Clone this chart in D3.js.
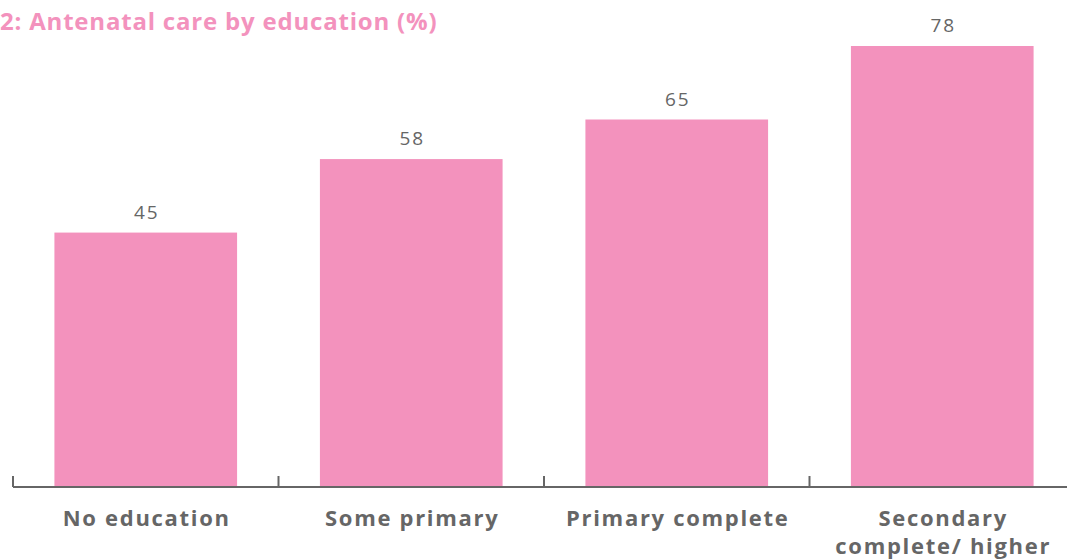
<!DOCTYPE html>
<html><head><meta charset="utf-8">
<script src="https://cdn.jsdelivr.net/npm/d3@7"></script>
<style>body{margin:0;background:#fff}svg{display:block}</style>
</head><body>
<svg id="c" width="1067" height="560"></svg>
<script>
const categories = ["No education", "Some primary", "Primary complete", "Secondary complete/ higher"];
const categoryLines = [["No education"], ["Some primary"], ["Primary complete"], ["Secondary", "complete/ higher"]];
const values = [45, 58, 65, 78];
const title = "2: Antenatal care by education (%)";

const svg = d3.select("#c");
const font = "'Open Sans', 'DejaVu Sans', sans-serif";
const grey = "#666666";
const pink = "#F392BD";

const x = d3.scaleBand().domain(categories).range([13, 1075]).paddingInner(0.312).paddingOuter(0.156);
const y = d3.scaleLinear().domain([0, 78]).range([487, 46]);

svg.append("text").attr("x", 0).attr("y", 30)
  .attr("font-family", font).attr("font-weight", 700).attr("font-size", 24)
  .attr("letter-spacing", 0.8)
  .attr("fill", pink).text(title);

svg.selectAll("rect.bar").data(values).join("rect").attr("class", "bar")
  .attr("x", (d, i) => x(categories[i])).attr("width", x.bandwidth())
  .attr("y", d => y(d)).attr("height", d => y(0) - y(d)).attr("fill", pink);

svg.selectAll("text.val").data(values).join("text").attr("class", "val")
  .attr("x", (d, i) => x(categories[i]) + x.bandwidth() / 2 + 1).attr("y", d => y(d) - 14)
  .attr("text-anchor", "middle").attr("font-family", font).attr("font-size", 19)
  .attr("letter-spacing", 2)
  .attr("fill", grey).text(d => d);

// axis
const ax = svg.append("g");
ax.append("line").attr("x1", 13).attr("x2", 1075).attr("y1", 487).attr("y2", 487)
  .attr("stroke", grey).attr("stroke-width", 2);
const bounds = categories.map(c => x(c) - x.step() * x.paddingInner() / 2);
bounds.push(x(categories[categories.length - 1]) + x.bandwidth() + x.step() * x.paddingInner() / 2);
ax.selectAll("line.tick").data(bounds).join("line").attr("class", "tick")
  .attr("x1", d => d).attr("x2", d => d).attr("y1", 476).attr("y2", 487)
  .attr("stroke", grey).attr("stroke-width", 2);

const lbl = svg.selectAll("text.cat").data(categories).join("text").attr("class", "cat")
  .attr("x", d => x(d) + x.bandwidth() / 2).attr("y", 526)
  .attr("text-anchor", "middle").attr("font-family", font).attr("font-weight", 700)
  .attr("font-size", 22).attr("letter-spacing", 1.7).attr("fill", grey);
lbl.each(function(d, i) {
  const t = d3.select(this);
  categoryLines[i].forEach((s, j) => {
    t.append("tspan").attr("x", x(d) + x.bandwidth() / 2 + 1).attr("dy", j === 0 ? 0 : 28).text(s);
  });
});
</script>
</body></html>
